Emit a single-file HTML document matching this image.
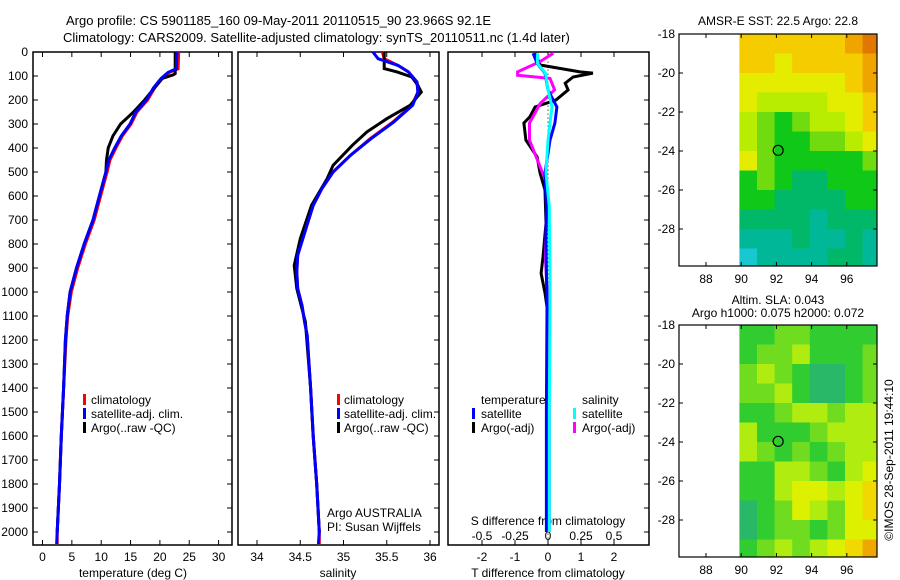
<!DOCTYPE html>
<html><head><meta charset="utf-8">
<style>
html,body{margin:0;padding:0;background:#fff;}
svg{display:block;font-family:"Liberation Sans",sans-serif;font-size:12px;}
</style></head>
<body>
<svg id="chart" width="900" height="580" viewBox="0 0 900 580" xmlns="http://www.w3.org/2000/svg">
<text x="66" y="25" font-size="13">Argo profile: CS 5901185_160 09-May-2011 20110515_90 23.966S 92.1E</text>
<text x="63" y="42" font-size="13">Climatology: CARS2009. Satellite-adjusted climatology: synTS_20110511.nc (1.4d later)</text>
<g id="g"></g>
</svg>
<script>
// ---------- data ----------
const depthTicks = [0,100,200,300,400,500,600,700,800,900,1000,1100,1200,1300,1400,1500,1600,1700,1800,1900,2000];
const tempTicks = [0,5,10,15,20,25,30];
const salTicks = [34,34.5,35,35.5,36];
const tdiffTicks = [-2,-1,0,1,2];
const sdiffTicks = [-0.5,-0.25,0,0.25,0.5];
const latTicks = [-18,-20,-22,-24,-26,-28];
const lonTicks = [88,90,92,94,96];

const tClimDepth = [0,70,85,110,150,200,250,300,350,400,450,500,600,700,800,900,1000,1100,1200,1400,1600,1800,2000,2050];
const tClimVal =   [23.2,23.1,21.6,20.4,19.1,17.9,16.1,15.1,13.6,12.5,11.5,11.0,9.9,8.8,7.3,6.0,4.9,4.3,4.0,3.6,3.2,2.9,2.5,2.5];
const tSatVal =    [22.9,22.8,21.4,20.2,18.9,17.7,15.9,14.9,13.4,12.3,11.3,10.8,9.7,8.6,7.1,5.8,4.7,4.2,3.9,3.6,3.2,2.9,2.5,2.4];
const tArgoDepth = [0,90,95,110,200,250,300,350,400,450,500,600,700,800,900,1000,1100,1200,1400,1600,1800,2000];
const tArgoVal =   [22.6,22.6,22.3,20.4,17.4,15.5,13.3,12.0,11.2,10.9,10.8,9.7,8.6,7.1,5.8,4.7,4.2,3.9,3.6,3.2,2.9,2.5];

const sClimDepth = [0,28,56,83,125,167,222,292,361,431,500,569,639,708,778,847,917,986,1056,1125,1181,1400,1600,1800,2000,2050];
const sClimVal =   [35.45,35.47,35.63,35.75,35.85,35.86,35.79,35.57,35.31,35.08,34.88,34.75,34.65,34.59,34.53,34.47,34.46,34.47,34.52,34.55,34.58,34.62,34.65,34.69,34.72,34.72];
const sSatVal =    [35.34,35.40,35.63,35.75,35.85,35.86,35.80,35.58,35.32,35.08,34.88,34.75,34.65,34.59,34.53,34.47,34.46,34.47,34.52,34.55,34.58,34.62,34.65,34.69,34.72,34.71];
const sArgoDepth = [0,69,83,104,139,167,222,278,333,389,472,528,639,778,889,986,1125,1400,1600,1800,2000];
const sArgoVal =   [35.47,35.47,35.62,35.79,35.86,35.90,35.77,35.50,35.27,35.10,34.88,34.81,34.63,34.50,34.43,34.46,34.56,34.62,34.65,34.69,34.72];

const dTDepth = [5,54,83,88,104,130,158,200,229,270,296,367,437,505,575,713,854,922,1004,1062,1200,1600,2000];
const dTArgo =  [-0.39,-0.24,0.97,1.36,0.76,0.52,0.61,0.24,-0.39,-0.55,-0.73,-0.67,-0.33,-0.24,-0.09,-0.06,-0.15,-0.21,-0.09,-0.03,0,-0.02,0];
const dSArgoDepth = [5,40,83,97,110,158,215,296,367,450,533,644,854,1062,1500,2000];
const dSArgo =      [0.04,-0.06,-0.23,-0.23,0.015,0.05,-0.06,-0.14,-0.14,-0.08,-0.02,-0.01,-0.02,0,0.01,0.01];
const dSatDepth = [5,47,88,158,229,296,367,505,644,784,922,1062,1500,2000];
const dTSat =     [-0.45,-0.33,-0.09,0,0.27,0.21,0.06,-0.09,-0.05,-0.06,-0.05,-0.03,-0.05,-0.05];
const dSSat =     [-0.08,-0.08,-0.02,0,0.03,0.015,0,-0.015,0.01,0.012,0.015,0.015,0.01,0.01];

const mapLons = [90,91,92,93,94,95,96,97];
const mapLats = [-18,-19,-20,-21,-22,-23,-24,-25,-26,-27,-28,-29];
const sstLevels = [
 [7,7,7,7,7,7,8,9],[7,7,6,7,7,7,7,8],[6,6,6,6,6,6,7,8],[6,5,5,5,5,6,6,7],
 [5,4,3,4,5,5,6,7],[5,4,3,3,4,4,5,6],[6,4,3,3,3,3,3,4],[3,4,3,2,2,3,3,3],
 [3,3,2,2,2,2,3,3],[2,2,2,2,1,2,2,2],[1,1,1,2,1,1,2,1],[0,1,1,1,1,2,2,1]];
const slaLevels = [
 [3,3,4,4,3,3,3,3],[3,4,4,5,3,3,3,4],[4,5,4,3,2,2,3,4],[4,4,5,3,2,2,3,4],
 [3,3,4,5,5,4,5,5],[5,3,3,3,4,5,5,5],[5,4,3,4,3,4,5,5],[3,3,5,5,4,3,5,6],
 [3,3,5,6,6,5,6,7],[2,3,4,6,5,4,6,7],[2,3,4,4,3,4,6,6],[3,4,5,4,5,6,7,8]];
const argoLon = 92.1, argoLat = -23.966;
const palette = ['#18c8d0','#00b898','#00b868','#10c818','#70dc10','#b8ec00','#e4ec00','#f4cc00','#f0a400','#e07800'];
const slaPalette = ['#18c8d0','#00b898','#28b868','#30cc30','#70dc20','#b0ec10','#dcf000','#f0d800','#f0a800','#e07800'];

// ---------- helpers ----------
const NS='http://www.w3.org/2000/svg';
const G=document.getElementById('g');
function mk(tag,attrs,parent){const e=document.createElementNS(NS,tag);for(const k in attrs)e.setAttribute(k,attrs[k]);(parent||G).appendChild(e);return e;}
const yD = d => 52 + d*0.24;
const PT = {x0:33,x1:232}, PS={x0:238,x1:439}, PD={x0:448,x1:649};
const TOP=52, BOT=545;
const xT = v => 42.5 + v*5.87;
const xS = v => 257 + (v-34)*86.5;
const xDT = v => 548 + v*33;
const xDS = v => 548 + v*132;

function frame(p,name){
  const r=mk('rect',{x:p.x0,y:TOP,width:p.x1-p.x0,height:BOT-TOP,fill:'none',stroke:'#000','stroke-width':1.5});
  
  
}
function line(depths,vals,xf,color,name){
  const pts=depths.map((d,i)=>xf(vals[i]).toFixed(1)+','+yD(d).toFixed(1)).join(' ');
  const e=mk('polyline',{points:pts,fill:'none',stroke:color,'stroke-width':3,'stroke-linejoin':'miter'});
  
  
}
function text(x,y,s,name,anchor,extra){
  const e=mk('text',Object.assign({x:x,y:y,'text-anchor':anchor||'start'},extra||{}));
  e.textContent=s;
  
  
  return e;
}
function xticks(ticks,xf,yLbl,name,labels){
  ticks.forEach((t,i)=>{
    const x=xf(t);
    mk('line',{x1:x,x2:x,y1:TOP,y2:TOP+5,stroke:'#000'});
    mk('line',{x1:x,x2:x,y1:BOT,y2:BOT-5,stroke:'#000'});
    if(yLbl){text(x,yLbl,labels?labels[i]:String(t),name,'middle');}
  });
}
function legBar(x,y,c){const e=mk('rect',{x:x,y:y-10,width:3,height:11,fill:c});}

// ---------- panel 1: temperature ----------
frame(PT,'temperature-panel');
depthTicks.forEach(d=>{
  const y=yD(d);
  mk('line',{x1:PT.x0,x2:PT.x0+5,y1:y,y2:y,stroke:'#000'});
  mk('line',{x1:PT.x1,x2:PT.x1-5,y1:y,y2:y,stroke:'#000'});
  mk('line',{x1:PS.x1,x2:PS.x1-5,y1:y,y2:y,stroke:'#000'});
  mk('line',{x1:PD.x1,x2:PD.x1-5,y1:y,y2:y,stroke:'#000'});
  text(28,y+4,String(d),'depth-tick-label','end');
});
xticks(tempTicks,xT,561,'temperature-tick-label');
text(133,577,'temperature (deg C)','temperature-axis-title','middle');
line(tClimDepth,tClimVal,xT,'#ff0000','temperature-climatology-line');
line(tArgoDepth,tArgoVal,xT,'#000000','temperature-argo-line');
line(tClimDepth,tSatVal,xT,'#0000ff','temperature-satellite-line');
legBar(83,404,'#ff0000'); text(91,404,'climatology','legend-climatology');
legBar(83,418,'#0000ff'); text(91,418,'satellite-adj. clim.','legend-satellite');
legBar(83,432,'#000000'); text(91,432,'Argo(..raw -QC)','legend-argo');

// ---------- panel 2: salinity ----------
frame(PS,'salinity-panel');
xticks(salTicks,xS,561,'salinity-tick-label');
text(338,577,'salinity','salinity-axis-title','middle');
line(sClimDepth,sClimVal,xS,'#ff0000','salinity-climatology-line');
line(sArgoDepth,sArgoVal,xS,'#000000','salinity-argo-line');
line(sClimDepth,sSatVal,xS,'#0000ff','salinity-satellite-line');
legBar(337,404,'#ff0000'); text(344,404,'climatology','legend-climatology');
legBar(337,418,'#0000ff'); text(344,418,'satellite-adj. clim.','legend-satellite');
legBar(337,432,'#000000'); text(344,432,'Argo(..raw -QC)','legend-argo');
text(327,517,'Argo AUSTRALIA','institution-label');
text(327,531,'PI: Susan Wijffels','pi-label');

// ---------- panel 3: differences ----------
frame(PD,'difference-panel');
xticks(tdiffTicks,xDT,561,'tdiff-tick-label');
sdiffTicks.forEach((t,i)=>text(xDS(t),540,String(t),'sdiff-tick-label','middle'));
text(548,525,'S difference from climatology','sdiff-axis-title','middle');
text(548,577,'T difference from climatology','tdiff-axis-title','middle');
mk('line',{x1:548,x2:548,y1:yD(40),y2:yD(2050),stroke:'#000','stroke-width':1,'stroke-dasharray':'1,3'});
line(dTDepth,dTArgo,xDT,'#000000','tdiff-argo-line');
line(dSArgoDepth,dSArgo,xDS,'#ff00ff','sdiff-argo-line');
line(dSatDepth,dTSat,xDT,'#0000ff','tdiff-satellite-line');
line(dSatDepth,dSSat,xDS,'#00ffff','sdiff-satellite-line');
text(481,404,'temperature','legend-temperature-heading');
legBar(472,418,'#0000ff'); text(481,418,'satellite','legend-t-satellite');
legBar(472,432,'#000000'); text(481,432,'Argo(-adj)','legend-t-argo');
text(582,404,'salinity','legend-salinity-heading');
legBar(573,418,'#00ffff'); text(582,418,'satellite','legend-s-satellite');
legBar(573,432,'#ff00ff'); text(582,432,'Argo(-adj)','legend-s-argo');

// ---------- maps ----------
function drawMap(top,levels,pal,name){
  const L=679,R=877,B=top+232;
  const xL = lon => 706 + (lon-88)*17.6;
  const yL = lat => top + (-18-lat)*19.5;
  levels.forEach((row,i)=>row.forEach((v,j)=>{
    const x0=xL(mapLons[j]-0.1), y0=yL(mapLats[i]);
    const x1=Math.min(xL(mapLons[j]+0.9),R), y1=Math.min(yL(mapLats[i]-1),B);
    const c=mk('rect',{x:x0.toFixed(1),y:y0.toFixed(1),width:(x1-x0+0.5).toFixed(1),height:(y1-y0+0.5).toFixed(1),fill:pal[v]});
    
    
  }));
  const f=mk('rect',{x:L,y:top,width:R-L,height:B-top,fill:'none',stroke:'#000','stroke-width':1.2});
  
  
  latTicks.forEach(t=>{
    const y=yL(t);
    mk('line',{x1:L,x2:L+4,y1:y,y2:y,stroke:'#000'});
    mk('line',{x1:R,x2:R-4,y1:y,y2:y,stroke:'#000'});
    text(L-4,y+4,String(t),'latitude-tick-label','end');
  });
  lonTicks.forEach(t=>{
    const x=xL(t);
    mk('line',{x1:x,x2:x,y1:B,y2:B-4,stroke:'#000'});
    mk('line',{x1:x,x2:x,y1:top,y2:top+4,stroke:'#000'});
    text(x,B+17,String(t),'longitude-tick-label','middle');
  });
  const m=mk('circle',{cx:xL(argoLon),cy:yL(argoLat),r:5,fill:'none',stroke:'#000','stroke-width':1.2});
  
  
}
drawMap(34,sstLevels,palette,'sst-map');
text(778,25,'AMSR-E SST: 22.5 Argo: 22.8','sst-map-title','middle');
drawMap(325,slaLevels,slaPalette,'sla-map');
text(778,304,'Altim. SLA: 0.043','sla-map-title','middle');
text(778,317,'Argo h1000: 0.075 h2000: 0.072','sla-map-subtitle','middle');
text(0,0,'©IMOS 28-Sep-2011 19:44:10','timestamp-label','middle',{transform:'translate(893,460) rotate(-90)'});
</script>
</body></html>
